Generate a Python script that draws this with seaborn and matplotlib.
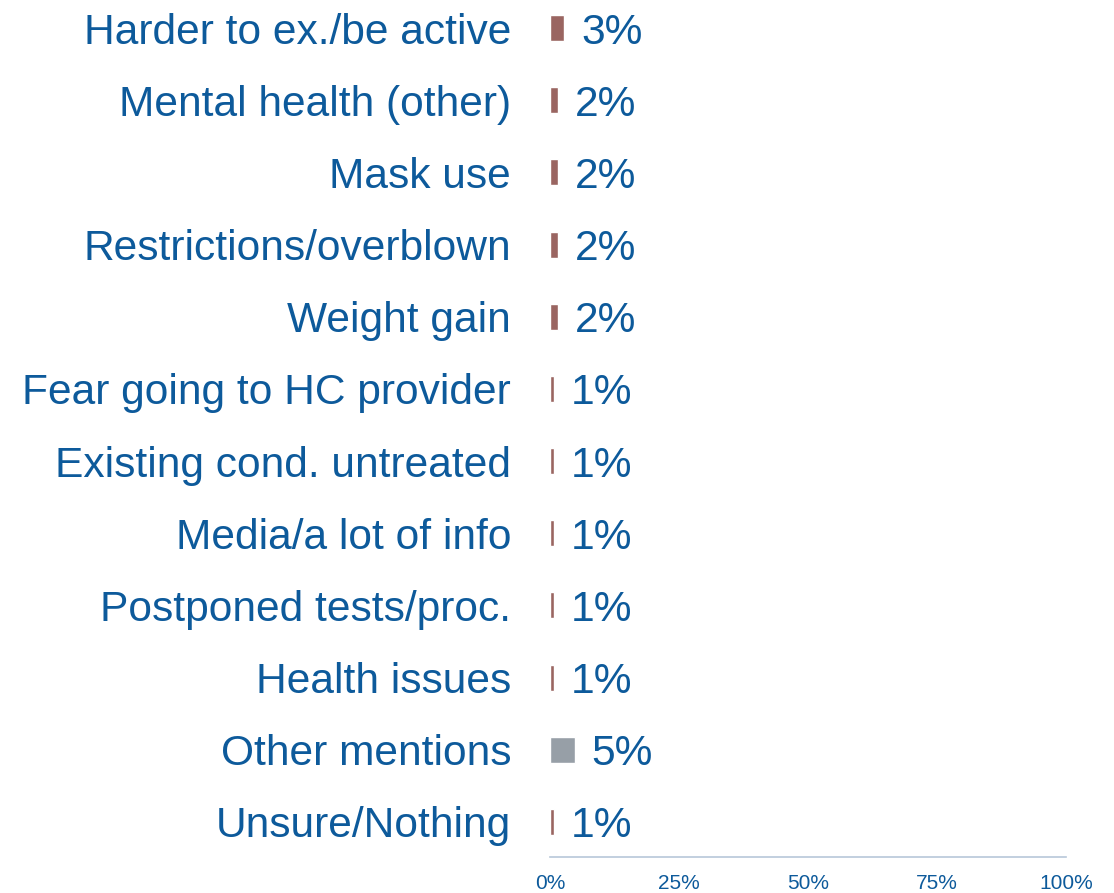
import matplotlib
matplotlib.use("Agg")
import matplotlib.pyplot as plt
import seaborn as sns
import pandas as pd

categories = [
    "Harder to ex./be active",
    "Mental health (other)",
    "Mask use",
    "Restrictions/overblown",
    "Weight gain",
    "Fear going to HC provider",
    "Existing cond. untreated",
    "Media/a lot of info",
    "Postponed tests/proc.",
    "Health issues",
    "Other mentions",
    "Unsure/Nothing",
]
values = [2.7, 1.6, 1.6, 1.6, 1.6, 0.8, 0.8, 0.8, 0.8, 0.8, 4.8, 0.8]
labels = ["3%", "2%", "2%", "2%", "2%", "1%", "1%", "1%", "1%", "1%", "5%", "1%"]
bar_colors = ["#9a6561"] * 10 + ["#979fa7", "#9a6561"]
xticks = [0, 25, 50, 75, 100]

text_blue = "#0d5a9b"

sns.set_style("white")
plt.rcParams["font.family"] = ["Liberation Sans", "DejaVu Sans"]

df = pd.DataFrame({"category": categories, "value": values})

fig = plt.figure(figsize=(11.14, 8.93), dpi=100)
ax = fig.add_axes([550 / 1114, 36 / 893, 516 / 1114, 857 / 893])

sns.barplot(data=df, x="value", y="category", hue="category",
            palette=bar_colors, legend=False, width=0.36, ax=ax,
            orient="h", saturation=1)

# value labels next to each bar
for i, (v, lab) in enumerate(zip(values, labels)):
    ax.text(v + 3.3, i, lab, va="center_baseline", ha="left",
            fontsize=30.6, color=text_blue)

ax.set_xlim(0, 100)
ax.set_ylim(11.485, -0.388)
ax.set_xticks(xticks)
ax.set_xticklabels([f"{t}%" for t in xticks], fontsize=15, color=text_blue)
ax.tick_params(axis="x", length=0, pad=12)
ax.tick_params(axis="y", length=0, pad=28, labelsize=30.6, labelcolor=text_blue)
for t in ax.get_yticklabels():
    t.set_verticalalignment("center_baseline")
ax.set_xlabel("")
ax.set_ylabel("")

for side in ["top", "right", "left"]:
    ax.spines[side].set_visible(False)
ax.spines["bottom"].set_color("#b8c7d9")
ax.spines["bottom"].set_linewidth(1.2)

fig.savefig("out.png", dpi=100)
